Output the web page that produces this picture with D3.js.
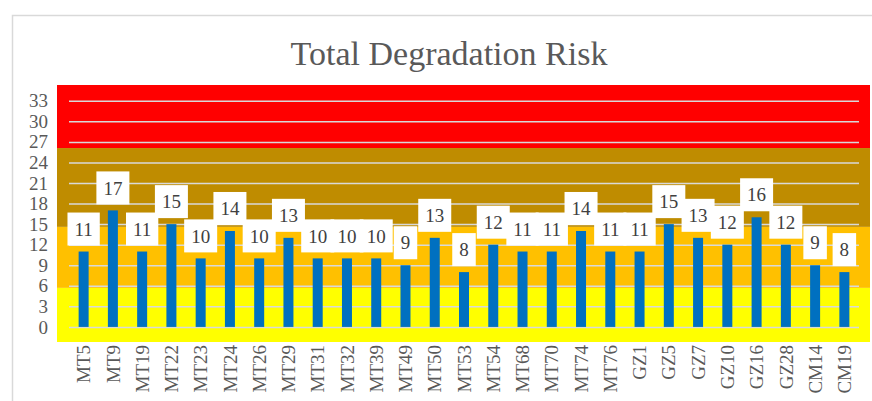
<!DOCTYPE html>
<html>
<head>
<meta charset="utf-8">
<script src="https://cdn.jsdelivr.net/npm/d3@7"></script>
<style>
    body { margin: 0; background: #fff; }
    text { font-family: "Liberation Serif", "Times New Roman", serif; }
</style>
</head>
<body>
<script>
//sample sites along the x axis
var sites = ["MT5", "MT9", "MT19", "MT22", "MT23", "MT24", "MT26", "MT29", "MT31", "MT32",
    "MT39", "MT49", "MT50", "MT53", "MT54", "MT68", "MT70", "MT74", "MT76", "GZ1",
    "GZ5", "GZ7", "GZ10", "GZ16", "GZ28", "CM14", "CM19"];

//total degradation risk score per site
var riskScores = [11, 17, 11, 15, 10, 14, 10, 13, 10, 10,
    10, 9, 13, 8, 12, 11, 11, 14, 11, 11,
    15, 13, 12, 16, 12, 9, 8];

//y axis ticks
var yTicks = [0, 3, 6, 9, 12, 15, 18, 21, 24, 27, 30, 33];

//risk band limits (axis units), bottom to top
var bandLimits = [-2.2, 5.7, 14.6, 26.1, 35.3];

window.onload = drawChart();

function drawChart() {
    var width = 872,
        height = 401;

    var bandColors = ["#FFFF00", "#FFC000", "#BF8C00", "#FF0000"];

    var svg = d3.select("body")
        .append("svg")
        .attr("width", width)
        .attr("height", height);

    //light chart frame
    svg.append("rect")
        .attr("x", 12.5)
        .attr("y", 15.5)
        .attr("width", 880)
        .attr("height", 420)
        .attr("fill", "none")
        .attr("stroke", "#D9D9D9")
        .attr("stroke-width", 1.5);

    svg.append("text")
        .attr("x", 449)
        .attr("y", 65)
        .attr("text-anchor", "middle")
        .attr("font-size", 34)
        .attr("fill", "#595959")
        .text("Total Degradation Risk");

    //scales
    var x = d3.scaleBand()
        .domain(sites)
        .range([69, 859]);

    var y = d3.scaleLinear()
        .domain([bandLimits[0], bandLimits[bandLimits.length - 1]])
        .range([342, 85]);

    //coloured risk bands behind the plot
    var bands = d3.pairs(bandLimits);
    svg.append("g")
        .selectAll("rect")
        .data(bands)
        .enter()
        .append("rect")
        .attr("x", 57)
        .attr("width", 870 - 57)
        .attr("y", function (d) { return y(d[1]); })
        .attr("height", function (d) { return y(d[0]) - y(d[1]); })
        .attr("fill", function (d, i) { return bandColors[i]; });

    //gridlines + y labels via axis
    var yAxis = svg.append("g")
        .attr("transform", "translate(69,0)")
        .call(d3.axisLeft(y)
            .tickValues(yTicks)
            .tickSize(-(859 - 69))
            .tickPadding(21));
    yAxis.select(".domain").remove();
    yAxis.selectAll("line")
        .attr("stroke", "#D9D9D9")
        .attr("stroke-width", 1.5);
    yAxis.selectAll("text")
        .attr("font-size", 19)
        .attr("font-family", "Liberation Serif")
        .attr("fill", "#595959");

    //bars
    var barWidth = 10;
    svg.append("g")
        .selectAll("rect")
        .data(riskScores)
        .enter()
        .append("rect")
        .attr("x", function (d, i) { return x(sites[i]) + x.bandwidth() / 2 - barWidth / 2; })
        .attr("width", barWidth)
        .attr("y", function (d) { return y(d); })
        .attr("height", function (d) { return y(0) - y(d); })
        .attr("fill", "#0070C0");

    //x axis labels, rotated
    var xAxis = svg.append("g")
        .attr("transform", "translate(0,342)")
        .call(d3.axisBottom(x).tickSize(0).tickPadding(0));
    xAxis.select(".domain").remove();
    xAxis.selectAll("text")
        .attr("font-size", 19)
        .attr("font-family", "Liberation Serif")
        .attr("fill", "#595959")
        .attr("text-anchor", "end")
        .attr("dy", "0.35em")
        .attr("transform", "translate(0,3) rotate(-90)")
        .attr("x", 0)
        .attr("y", 0);

    //data labels in white boxes
    var labels = svg.append("g")
        .selectAll("g")
        .data(riskScores)
        .enter()
        .append("g");

    labels.append("rect").attr("fill", "#fff");
    labels.append("text")
        .attr("font-size", 19)
        .attr("fill", "#404040")
        .attr("text-anchor", "middle")
        .attr("dy", "0.35em")
        .text(function (d) { return d; });

    labels.each(function (d, i) {
        var g = d3.select(this),
            cx = x(sites[i]) + x.bandwidth() / 2,
            boxH = 33,
            boxBottom = y(d) - 6,
            textW = g.select("text").node().getComputedTextLength(),
            boxW = textW + 14;
        g.select("rect")
            .attr("x", cx - boxW / 2)
            .attr("y", boxBottom - boxH)
            .attr("width", boxW)
            .attr("height", boxH);
        g.select("text")
            .attr("x", cx)
            .attr("y", boxBottom - boxH / 2);
    });
}
</script>
</body>
</html>
